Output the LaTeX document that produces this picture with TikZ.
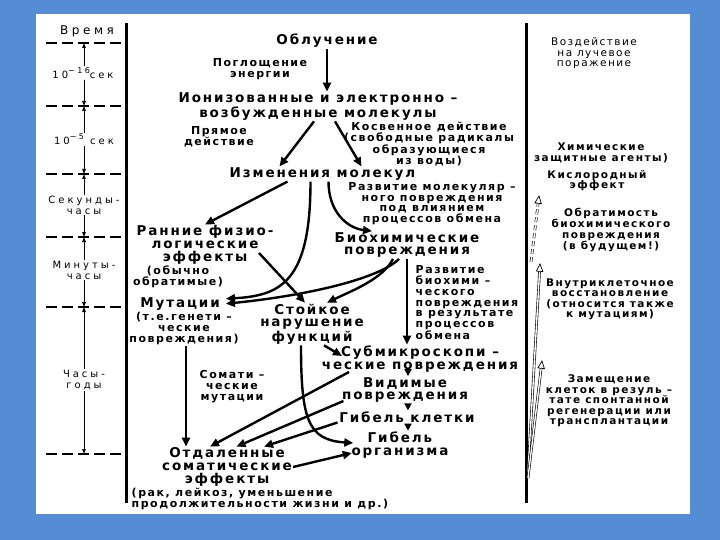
\documentclass[tikz,border=0pt]{standalone}
\usepackage{fontspec}
\setmainfont{DejaVu Sans}[LetterSpace=14]
\newfontfamily\timefont{DejaVu Sans}[LetterSpace=30]
\usetikzlibrary{arrows.meta,calc}
\definecolor{bgblue}{RGB}{84,141,212}
\newcommand\hollowhead[2]{\draw[line width=0.7pt,fill=white] (#1) -- ($(#1)!8pt!24:(#2)$) -- ($(#1)!8pt!-24:(#2)$) -- cycle;}
\begin{document}
\begin{tikzpicture}[x=1pt,y=-1pt,
  mainf/.style={font=\bfseries\fontsize{13.5}{12.8}\selectfont,align=center,inner sep=1pt},
  annf/.style={font=\bfseries\fontsize{11}{10.8}\selectfont,align=center,inner sep=1pt},
  rightf/.style={font=\bfseries\fontsize{10.5}{10.5}\selectfont,align=center,inner sep=1pt},
  timef/.style={font=\timefont\fontsize{10}{11}\selectfont,align=center,inner sep=1pt},
  arr/.style={line width=2.4pt,-{Triangle[length=9pt,width=8pt]}},
  sarr/.style={line width=2pt,-{Triangle[length=7pt,width=7pt]}},
  tarr/.style={line width=0.9pt,-{Triangle[length=5pt,width=3.5pt]}},
  tline/.style={dash pattern=on 11pt off 5pt},
  vline/.style={line width=3pt},
  hol/.style={double=white,double distance=1.4pt,line width=0.6pt}]
\useasboundingbox (0,0) rectangle (720,540);
\fill[bgblue] (0,0) rectangle (720,540);
\fill[white] (36,14) rectangle (690,514);
\draw[vline] (126,23) -- (126,503);
\draw[vline] (526.5,23) -- (526.5,503);
% time scale
\foreach \yy/\w in {43/1.1,106/2,174/1.1,237/1.1,307/2,454/1.1}
  \draw[tline,line width=\w pt] (46,\yy) -- (126,\yy);
\coordinate (d0) at (84,43);
\coordinate (d1) at (84,106);
\coordinate (d2) at (84,174);
\coordinate (d3) at (84,237);
\coordinate (d4) at (84,307);
\coordinate (d5) at (84,454);
\node[timef,font=\timefont\fontsize{12}{12}\selectfont] (vrem) at (87,31.5) {Время};
\node[timef] (t1) at (83,73) {10\raisebox{5pt}{\fontsize{8}{8}\selectfont −16}сек};
\node[timef] (t2) at (84,139.5) {10\raisebox{5pt}{\fontsize{8}{8}\selectfont −5}\ сек};
\node[timef] (t3) at (84,205) {Секунды-\\часы};
\node[timef] (t4) at (84,270) {Минуты-\\часы};
\node[timef] (t5) at (84,380) {Часы-\\годы};
\draw[tarr] (d0 |- t1.north) -- (d0);
\draw[tarr] (d1 |- t1.south) -- (d1);
\draw[tarr] (d1 |- t2.north) -- (d1);
\draw[tarr] (d2 |- t2.south) -- (d2);
\draw[tarr] (d2 |- t3.north) -- (d2);
\draw[tarr] (d3 |- t3.south) -- (d3);
\draw[tarr] (d3 |- t4.north) -- (d3);
\draw[tarr] (d4 |- t4.south) -- (d4);
\draw[tarr] (d4 |- t5.north) -- (d4);
\draw[tarr] (d5 |- t5.south) -- (d5);
% main flow
\node[mainf] (obl) at (327,41) {Облучение};
\node[annf] (pogl) at (260,69) {Поглощение\\энергии};
\node[mainf] (ion) at (318,106.5) {Ионизованные и электронно –\\возбужденные молекулы};
\node[annf] (pryam) at (219,137) {Прямое\\действие};
\node[annf] (kosv) at (429,144) {Косвенное действие\\(свободные радикалы\\образующиеся\\из воды)};
\node[mainf] (izm) at (322.5,174) {Изменения молекул};
\node[annf] (razv) at (432,203.7) {Развитие молекуляр –\\ного повреждения\\под влиянием\\процессов обмена};
\node[mainf] (rann) at (205,245) {Ранние физио-\\логические\\эффекты};
\node[annf] (obych) at (178,276.7) {(обычно\\обратимые)};
\node[mainf] (bioh) at (407,245) {Биохимические\\повреждения};
\node[mainf] (mut) at (180,303.7) {Мутации};
\node[annf] (mutp) at (184,328.3) {(т.е.генети –\\ческие\\повреждения)};
\node[mainf] (stoyk) at (312,324) {Стойкое\\нарушение\\функций};
\node[annf,align=left,anchor=west] (razvb) at (414.5,302.7) {Развитие\\биохими –\\ческого\\повреждения\\в результате\\процессов\\обмена};
\node[mainf] (subm) at (420,359) {Субмикроскопи –\\ческие повреждения};
\node[mainf] (vid) at (405,390) {Видимые\\повреждения};
\node[mainf] (gibk) at (407,417) {Гибель клетки};
\node[mainf] (gibo) at (400,445) {Гибель\\организма};
\node[annf] (somm) at (232,386.7) {Сомати –\\ческие\\мутации};
\node[mainf] (otd) at (227,467) {Отдаленные\\соматические\\эффекты};
\node[annf,align=left,anchor=west] (rak) at (130.5,499.3) {(рак, лейкоз, уменьшение\\продолжительности жизни и др.)};
% right column
\node[rightf,font=\fontsize{10.5}{10.5}\selectfont] (vozd) at (594,53.5) {Воздействие\\на лучевое\\поражение};
\node[rightf] (him) at (601,153) {Химические\\защитные агенты)};
\node[rightf] (kisl) at (597,180.5) {Кислородный\\эффект};
\node[rightf] (obr) at (611,230) {Обратимость\\биохимического\\повреждения\\(в будущем!)};
\node[rightf] (vnutr) at (610,299.5) {Внутриклеточное\\восстановление\\(относится также\\к мутациям)};
\node[rightf] (zam) at (609,401) {Замещение\\клеток в резуль –\\тате спонтанной\\регенерации или\\трансплантации};
% flow arrows
\draw[arr] (obl.south) -- (obl.south |- ion.north);
\draw[arr] ($(ion.south)+(-4,0)$) -- ($(izm.north)+(-43,0)$);
\draw[arr] ($(ion.south)+(17,0)$) -- ($(izm.north)+(39,0)$);
\draw[arr] ($(izm.south)+(-35,0)$) -- (rann.north);
\draw[arr] ($(izm.south)+(-12,0)$) .. controls +(0,100) and +(55,-3) .. ($(mut.east)+(5,-5)$);
\draw[arr] ($(izm.south)+(6,0)$) .. controls +(0,30) and +(-25,-3) .. ($(bioh.north)+(-35,0)$);
\draw[arr] ($(rann.center)+(54,8)$) -- ($(stoyk.north)+(-7,0)$);
\draw[arr] ($(bioh.south)+(-8,0)$) .. controls +(-20,20) and +(80,-8) .. ($(mut.east)+(5,0)$);
\draw[arr] ($(bioh.south)+(-14,0)$) .. controls +(-10,20) and +(25,-12) .. ($(stoyk.north)+(15,0)$);
\draw[arr] (bioh.south) -- (bioh.south |- subm.north);
\draw[arr] ($(stoyk.south)+(12,0)$) -- ($(subm.center)+(-78,-3)$);
\draw[arr] ($(stoyk.south)+(-11,0)$) .. controls +(0,75) and +(-45,-3) .. ($(gibo.west)+(3,-2)$);
\coordinate (ma) at ($(mutp.south)+(2,0)$);
\draw[arr] (ma) -- (ma |- otd.north);
\draw[arr] ($(subm.center)+(-71,13)$) -- ($(otd.north)+(-17,0)$);
\draw[arr] ($(vid.center)+(-61.6,11)$) -- ($(otd.north)+(9.5,0)$);
\draw[arr] ($(gibk.center)+(-69.5,5.5)$) -- ($(otd.north)+(37,0)$);
\draw[arr] (otd.east) -- ($(gibo.west)+(1.5,8)$);
\draw[sarr] ($(subm.south)+(-12,0)$) -- ($(vid.north)+(3,0)$);
\draw[sarr] ($(vid.south)+(3,0)$) -- ($(gibk.north)+(1,0)$);
\draw[sarr] ($(gibk.south)+(1,0)$) -- ($(gibo.north)+(8,0)$);
% hollow arrows on the right
\coordinate (h1tip) at (539,196);
\coordinate (h1tail) at (531,262);
\coordinate (h2tip) at (540,264);
\coordinate (h2tail) at (528,472);
\coordinate (h3tip) at (542,361);
\coordinate (h3tail) at (528,478);
\draw[hol,dash pattern=on 5pt off 3pt] (h1tail) -- ($(h1tip)!7pt!(h1tail)$);
\hollowhead{h1tip}{h1tail}
\draw[hol] (h2tail) -- ($(h2tip)!7pt!(h2tail)$);
\hollowhead{h2tip}{h2tail}
\draw[hol] (h3tail) -- ($(h3tip)!7pt!(h3tail)$);
\hollowhead{h3tip}{h3tail}
\end{tikzpicture}
\end{document}
